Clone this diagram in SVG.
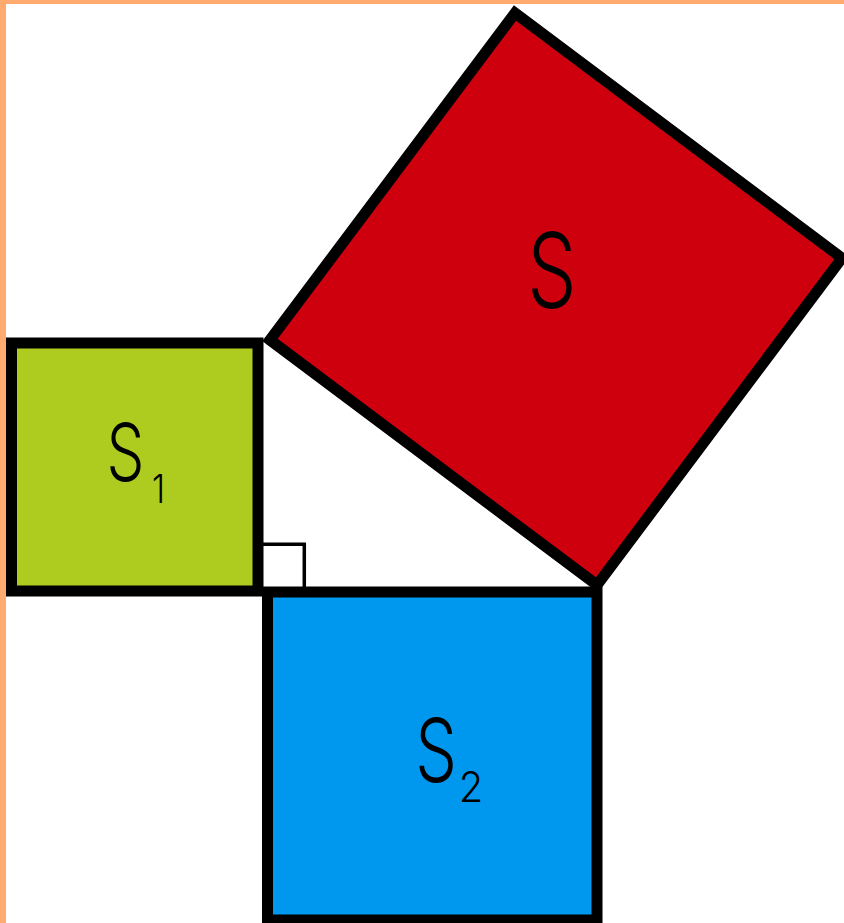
<svg xmlns="http://www.w3.org/2000/svg" width="844" height="923" viewBox="0 0 844 923">
<style>
.sq{stroke:#000;stroke-width:11;stroke-linejoin:miter}
.lbl{font-family:Inter,"Liberation Sans",sans-serif;font-weight:300;fill:#000;text-anchor:middle}
</style>
<rect x="0" y="0" width="844" height="923" fill="#fff"/>
<rect x="0" y="0" width="844" height="4" fill="#FFAB70"/>
<rect x="0" y="0" width="6" height="923" fill="#FFAB70"/>
<g id="square-s">
<polygon class="sq" points="270,340 597,585 842,258 515,13" fill="#CE000E"/>
<text class="lbl" transform="translate(552,308) scale(0.75,1)" font-size="104">S</text>
</g>
<g id="square-s1">
<rect class="sq" x="11.5" y="343" width="246.5" height="248" fill="#AECC1F"/>
<text class="lbl" transform="translate(125.5,481) scale(0.75,1)" font-size="80">S</text>
<text class="lbl" transform="translate(158.5,503) scale(0.85,1)" font-size="39">1</text>
</g>
<g id="square-s2">
<rect class="sq" x="267.5" y="592" width="329.5" height="328" fill="#0098EE"/>
<text class="lbl" transform="translate(436,782) scale(0.75,1)" font-size="88">S</text>
<text class="lbl" transform="translate(471,801.5) scale(0.95,1)" font-size="42">2</text>
</g>
<g id="connectors">
<polyline points="263,544.3 304.3,544.3 304.3,587" fill="none" stroke="#000" stroke-width="3.5"/>
</g>
</svg>
